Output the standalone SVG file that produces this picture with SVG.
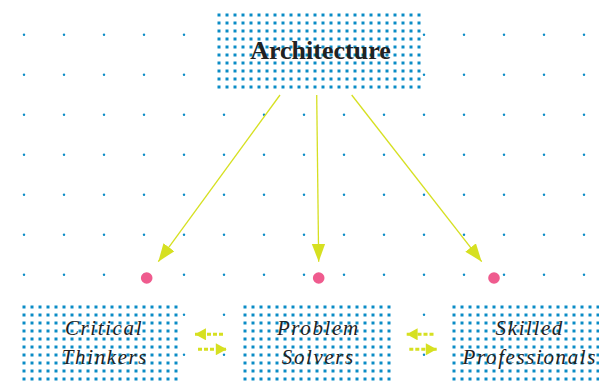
<svg xmlns="http://www.w3.org/2000/svg" width="599" height="381" viewBox="0 0 599 381">
<defs>
<pattern id="grid" patternUnits="userSpaceOnUse" x="0" y="0" width="40" height="40">
<circle cx="24" cy="34.7" r="1.2" fill="#0a8cc6"/>
</pattern>
<pattern id="dots" patternUnits="userSpaceOnUse" x="0" y="0" width="8" height="8">
<rect x="2.5" y="2.5" width="3" height="3" fill="#0a8cc6"/>
</pattern>
<marker id="head" markerUnits="userSpaceOnUse" markerWidth="18" markerHeight="14" viewBox="0 0 16 12" refX="16" refY="6" orient="auto">
<path d="M0,0 L16,6 L0,12 Z" fill="#d6e021"/>
</marker>
<marker id="shead" markerUnits="userSpaceOnUse" markerWidth="12" markerHeight="12" viewBox="0 0 10 11" refX="10" refY="5.5" orient="auto">
<path d="M0,0 L10,5.5 L0,11 Z" fill="#d6e021"/>
</marker>
</defs>
<style>
.box{fill:#fff}
.pat{fill:url(#dots)}
.title{font-family:"Liberation Serif",serif;font-weight:bold;font-size:26px;fill:#222;text-anchor:middle}
.lbl{font-family:"Liberation Serif",serif;font-style:italic;font-size:21px;letter-spacing:1.6px;fill:#222;text-anchor:middle}
.arr{stroke:#d6e021;stroke-width:1.3;fill:none;marker-end:url(#head)}
.darr{stroke:#d6e021;stroke-width:3;stroke-dasharray:4 2;fill:none;marker-end:url(#shead)}
.pin{fill:#ef5b8e}
</style>
<rect width="599" height="381" fill="#fff"/>
<rect width="599" height="381" fill="url(#grid)"/>

<g id="connectors">
<line class="arr" x1="280" y1="95" x2="158.3" y2="261.7"/>
<line class="arr" x1="316.7" y1="95" x2="318.7" y2="261.7"/>
<line class="arr" x1="351.7" y1="95" x2="481.7" y2="261.7"/>
<line class="darr" x1="223" y1="334.3" x2="195" y2="334.3"/>
<line class="darr" x1="198" y1="349.3" x2="226.7" y2="349.3"/>
<line class="darr" x1="433.5" y1="334.3" x2="406.7" y2="334.3"/>
<line class="darr" x1="409.3" y1="349.3" x2="436.7" y2="349.3"/>
</g>

<g id="pins">
<circle class="pin" cx="146.7" cy="278" r="5.8"/>
<circle class="pin" cx="318.7" cy="278" r="5.8"/>
<circle class="pin" cx="494" cy="278" r="5.8"/>
</g>

<g id="architecture">
<g transform="translate(215,11)">
<rect class="box" width="207" height="80"/>
<rect class="pat" width="207" height="80"/>
</g>
<text class="title" x="320.5" y="59.3">Architecture</text>
</g>

<g id="critical-thinkers">
<g transform="translate(20,303)">
<rect class="box" width="160" height="78"/>
<rect class="pat" width="160" height="78"/>
</g>
<text class="lbl" x="104" y="335">Critical</text>
<text class="lbl" x="105" y="364">Thinkers</text>
</g>

<g id="problem-solvers">
<g transform="translate(241,303)">
<rect class="box" width="152" height="78"/>
<rect class="pat" width="152" height="78"/>
</g>
<text class="lbl" x="318.3" y="335">Problem</text>
<text class="lbl" x="318.3" y="364">Solvers</text>
</g>

<g id="skilled-professionals">
<g transform="translate(450,303)">
<rect class="box" width="149" height="78"/>
<rect class="pat" width="149" height="78"/>
</g>
<text class="lbl" x="529.8" y="335">Skilled</text>
<text class="lbl" x="529.8" y="364">Professionals</text>
</g>
</svg>
